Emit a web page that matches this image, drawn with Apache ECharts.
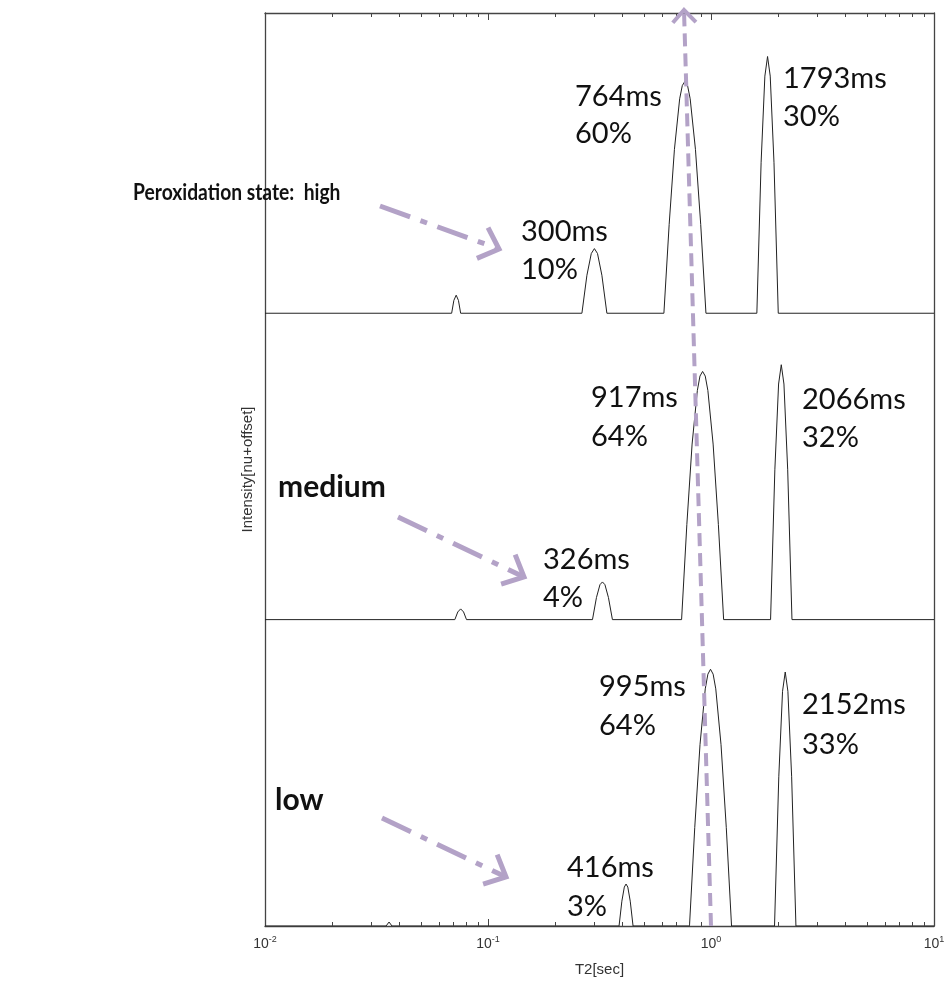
<!DOCTYPE html>
<html>
<head>
<meta charset="utf-8">
<script src="https://cdn.jsdelivr.net/npm/echarts@6/dist/echarts.min.js"></script>
<style>
  html, body { margin: 0; padding: 0; background: #fff; }
  #chart { width: 948px; height: 987px; }
</style>
</head>
<body>
<div id="chart"></div>
<script>
// T2 relaxation distributions, [T2 in seconds, intensity], one list per peroxidation state
const HIGH = [
  [0.01, 0],
  [0.0687, 0], [0.0703, 0.042], [0.072, 0.059], [0.0737, 0.042], [0.0754, 0],
  [0.2637, 0], [0.2777, 0.124], [0.2905, 0.195], [0.300, 0.211], [0.3098, 0.195], [0.3241, 0.124], [0.3413, 0],
  [0.6149, 0], [0.6492, 0.29], [0.6855, 0.535], [0.7236, 0.70], [0.7435, 0.743], [0.764, 0.757],
  [0.7851, 0.743], [0.8066, 0.70], [0.8516, 0.535], [0.8992, 0.29], [0.9492, 0],
  [1.6054, 0], [1.6779, 0.493], [1.7441, 0.774], [1.793, 0.838], [1.8432, 0.774], [1.9160, 0.493], [2.0026, 0],
  [10, 0]
];
const MEDIUM = [
  [0.01, 0],
  [0.0710, 0], [0.0732, 0.025], [0.0754, 0.035], [0.0777, 0.025], [0.0801, 0],
  [0.2941, 0], [0.3064, 0.072], [0.3177, 0.114], [0.326, 0.123], [0.3345, 0.114], [0.3468, 0.072], [0.3614, 0],
  [0.7381, 0], [0.7792, 0.31], [0.8227, 0.573], [0.8685, 0.748], [0.8924, 0.795], [0.917, 0.81],
  [0.9423, 0.795], [0.9682, 0.748], [1.0221, 0.573], [1.0792, 0.31], [1.1393, 0],
  [1.8499, 0], [1.9334, 0.489], [2.0096, 0.769], [2.066, 0.832], [2.1238, 0.769], [2.2078, 0.489], [2.3075, 0],
  [10, 0]
];
const LOW = [
  [0.01, 0],
  [0.0349, 0], [0.036, 0.013], [0.0371, 0],
  [0.3870, 0], [0.3984, 0.081], [0.4086, 0.127], [0.416, 0.137], [0.4236, 0.127], [0.4344, 0.081], [0.4472, 0],
  [0.8009, 0], [0.8455, 0.321], [0.8927, 0.592], [0.9424, 0.774], [0.9683, 0.822], [0.995, 0.838],
  [1.0225, 0.822], [1.0505, 0.774], [1.1090, 0.592], [1.1710, 0.321], [1.2362, 0],
  [1.9269, 0], [2.0138, 0.487], [2.0933, 0.766], [2.152, 0.829], [2.2123, 0.766], [2.2996, 0.487], [2.4036, 0],
  [10, 0]
];
// vertical offset of each trace (nu + offset)
const STATES = ['high', 'medium', 'low'];
const OFFSETS = [2, 1, 0];
const Y_MAX = 2.98;

// x axis range and minor tick positions (log decades)
const X_MIN = 0.01, X_MAX = 10;
const MINOR_TICKS = [
  0.02, 0.03, 0.04, 0.05, 0.06, 0.07, 0.08, 0.09,
  0.2, 0.3, 0.4, 0.5, 0.6, 0.7, 0.8, 0.9,
  2, 3, 4, 5, 6, 7, 8, 9
];

// peak annotations: text lines
const PEAK_TEXT = [
  ['764ms', 575, 97], ['60%', 575, 134],
  ['1793ms', 783, 79], ['30%', 783, 117],
  ['300ms', 521, 232], ['10%', 521, 270],
  ['917ms', 591, 398], ['64%', 591, 437],
  ['2066ms', 802, 400], ['32%', 802, 438],
  ['326ms', 543, 560], ['4%', 543, 598],
  ['995ms', 599, 687], ['64%', 599, 726],
  ['2152ms', 802, 705], ['33%', 802, 745],
  ['416ms', 567, 868], ['3%', 567, 907]
];
const STATE_TEXT = [
  ['Peroxidation state:  high', 133, 193, 22, 0.875],
  ['medium', 278, 487, 30, 1.0],
  ['low', 275, 800, 30, 1.0]
];

const LAVENDER = '#b3a2c7';
const AXIS_COLOR = '#444';
const TRACE_COLOR = '#222';

const chart = echarts.init(document.getElementById('chart'), null, { renderer: 'canvas' });

const traces = [HIGH, MEDIUM, LOW].map((pts, i) => ({
  name: STATES[i],
  type: 'line',
  xAxisIndex: 0,
  yAxisIndex: 0,
  showSymbol: false,
  silent: true,
  animation: false,
  lineStyle: { color: TRACE_COLOR, width: 1 },
  data: pts.map(p => [p[0], p[1] + OFFSETS[i]]),
  z: 3
}));

const minorTickSeries = {
  type: 'custom',
  xAxisIndex: 0,
  yAxisIndex: 0,
  silent: true,
  animation: false,
  data: MINOR_TICKS.map(v => [v]),
  renderItem: function (params, api) {
    const cs = params.coordSys;
    const x = Math.round(api.coord([api.value(0), 0])[0]) + 0.5;
    const style = { stroke: AXIS_COLOR, lineWidth: 1 };
    return {
      type: 'group',
      children: [
        { type: 'line', shape: { x1: x, y1: cs.y + cs.height, x2: x, y2: cs.y + cs.height - 4 }, style: style },
        { type: 'line', shape: { x1: x, y1: cs.y, x2: x, y2: cs.y + 4 }, style: style }
      ]
    };
  },
  z: 4
};

const labelFont = 'Liberation Sans';
const frameLine = { show: true, onZero: false, lineStyle: { color: AXIS_COLOR, width: 1.3 } };

const option = {
  animation: false,
  backgroundColor: '#fff',
  grid: { left: 265, right: 14, top: 13, bottom: 61, containLabel: false },
  xAxis: [
    {
      type: 'log', logBase: 10, min: X_MIN, max: X_MAX,
      position: 'bottom',
      name: 'T2[sec]',
      nameLocation: 'middle',
      nameGap: 36,
      nameTextStyle: { fontFamily: labelFont, fontSize: 15, color: '#333' },
      axisLine: frameLine,
      axisTick: { show: true, inside: true, length: 7, lineStyle: { color: AXIS_COLOR } },
      splitLine: { show: false },
      minorTick: { show: false },
      axisLabel: {
        margin: 9,
        formatter: function (v) {
          const e = Math.round(Math.log10(v));
          return '{b|10}{s|' + e + '}';
        },
        rich: {
          b: { fontFamily: labelFont, fontSize: 14, color: '#333' },
          s: { fontFamily: labelFont, fontSize: 9, color: '#333', padding: [0, 0, 9, 0] }
        }
      }
    },
    {
      type: 'log', logBase: 10, min: X_MIN, max: X_MAX,
      position: 'top',
      axisLine: frameLine,
      axisTick: { show: true, inside: true, length: 7, lineStyle: { color: AXIS_COLOR } },
      axisLabel: { show: false },
      splitLine: { show: false }
    }
  ],
  yAxis: [
    {
      type: 'value', min: 0, max: Y_MAX,
      position: 'left',
      name: 'Intensity[nu+offset]',
      nameLocation: 'middle',
      nameRotate: 90,
      nameGap: 10,
      nameTextStyle: { fontFamily: labelFont, fontSize: 15, color: '#333' },
      axisLine: frameLine,
      axisTick: { show: false },
      axisLabel: { show: false },
      splitLine: { show: false }
    },
    {
      type: 'value', min: 0, max: Y_MAX,
      position: 'right',
      axisLine: frameLine,
      axisTick: { show: false },
      axisLabel: { show: false },
      splitLine: { show: false }
    }
  ],
  series: traces.concat([minorTickSeries])
};

chart.setOption(option);

// open chevron arrow head at tip, pointing away from (fx, fy)
function chevron(fx, fy, tx, ty, len, spread, width) {
  const ang = Math.atan2(ty - fy, tx - fx);
  const a1 = ang + Math.PI - spread, a2 = ang + Math.PI + spread;
  return {
    type: 'polyline',
    shape: { points: [
      [tx + len * Math.cos(a1), ty + len * Math.sin(a1)],
      [tx, ty],
      [tx + len * Math.cos(a2), ty + len * Math.sin(a2)]
    ] },
    style: { stroke: LAVENDER, lineWidth: width, fill: null, lineJoin: 'miter', lineCap: 'butt' },
    z: 10
  };
}
function dashedArrow(fx, fy, tx, ty, dash, width, headLen) {
  return [
    {
      type: 'line',
      shape: { x1: fx, y1: fy, x2: tx, y2: ty },
      style: { stroke: LAVENDER, lineWidth: width, lineDash: dash, lineCap: 'butt' },
      z: 10
    },
    chevron(fx, fy, tx, ty, headLen, 0.75, width)
  ];
}

const graphics = [];
// pointers to the short-T2 peaks
graphics.push(...dashedArrow(380, 206, 499, 249, [32, 11, 7, 11], 5, 24));
graphics.push(...dashedArrow(398, 517, 524, 577, [32, 11, 7, 11], 5, 24));
graphics.push(...dashedArrow(382, 818, 506, 877, [32, 11, 7, 11], 5, 24));
// shift of the main peak across states
graphics.push(...dashedArrow(711, 926, 684, 10, [13, 7], 4, 17));

PEAK_TEXT.forEach(t => {
  graphics.push({
    type: 'text', x: t[1], y: t[2], z: 20,
    style: { text: t[0], fill: '#111', font: '29px Lato', textAlign: 'left', textVerticalAlign: 'middle' }
  });
});
STATE_TEXT.forEach(t => {
  graphics.push({
    type: 'text', x: t[1], y: t[2], z: 20, scaleX: t[4],
    style: { text: t[0], fill: '#111', font: 'bold ' + t[3] + 'px Lato', textAlign: 'left', textVerticalAlign: 'middle' }
  });
});

chart.setOption({ graphic: graphics });
</script>
</body>
</html>
